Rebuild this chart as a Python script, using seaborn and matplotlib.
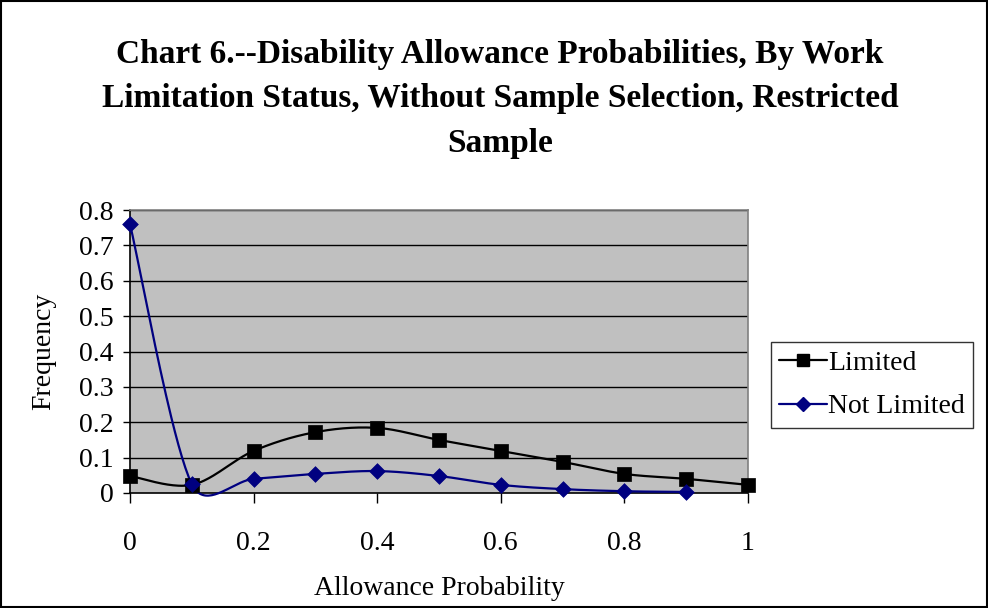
import numpy as np
import pandas as pd
import matplotlib
matplotlib.use("Agg")
import matplotlib.pyplot as plt
import seaborn as sns
from matplotlib.lines import Line2D

# ---- data ----
x_values = [0.0, 0.1, 0.2, 0.3, 0.4, 0.5, 0.6, 0.7, 0.8, 0.9, 1.0]
limited = [0.048, 0.023, 0.119, 0.172, 0.184, 0.150, 0.119, 0.088, 0.054, 0.040, 0.023]
not_limited_x = [0.0, 0.1, 0.2, 0.3, 0.4, 0.5, 0.6, 0.7, 0.8, 0.9]
not_limited = [0.760, 0.025, 0.040, 0.054, 0.062, 0.048, 0.023, 0.011, 0.005, 0.003]
series_names = ["Limited", "Not Limited"]
x_ticks = [0, 0.2, 0.4, 0.6, 0.8, 1.0]
x_tick_labels = ["0", "0.2", "0.4", "0.6", "0.8", "1"]
y_ticks = [0, 0.1, 0.2, 0.3, 0.4, 0.5, 0.6, 0.7, 0.8]
y_tick_labels = ["0", "0.1", "0.2", "0.3", "0.4", "0.5", "0.6", "0.7", "0.8"]
title = "Chart 6.--Disability Allowance Probabilities, By Work\nLimitation Status, Without Sample Selection, Restricted\nSample"
x_label = "Allowance Probability"
y_label = "Frequency"


def excel_smooth(ax, xs, ys, n=40):
    """Excel-style smoothed line (cubic Bezier, computed in screen space)."""
    P = ax.transData.transform(np.column_stack([xs, ys]).astype(float))
    out = []
    m = len(P)
    for i in range(m - 1):
        p0 = P[i - 1] if i > 0 else P[i]
        p1 = P[i]
        p2 = P[i + 1]
        p3 = P[i + 2] if i + 2 < m else P[i + 1]
        d12 = np.linalg.norm(p2 - p1)
        d02 = np.linalg.norm(p2 - p0)
        d13 = np.linalg.norm(p3 - p1)
        f1 = 1 / 6.0
        f2 = 1 / 6.0
        if d02 > 0 and d02 / 6.0 > d12 / 2.0:
            f1 = d12 / (2.0 * d02)
        if d13 > 0 and d13 / 6.0 > d12 / 2.0:
            f2 = d12 / (2.0 * d13)
        c1 = p1 + (p2 - p0) * f1
        c2 = p2 - (p3 - p1) * f2
        t = np.linspace(0, 1, n, endpoint=(i == m - 2))[:, None]
        seg = ((1 - t) ** 3) * p1 + 3 * ((1 - t) ** 2) * t * c1 + 3 * (1 - t) * t ** 2 * c2 + t ** 3 * p2
        out.append(seg)
    out = ax.transData.inverted().transform(np.vstack(out))
    return out[:, 0], out[:, 1]


sns.set_theme(style="white")
plt.rcParams["font.family"] = ["Liberation Serif", "DejaVu Serif"]
plt.rcParams["text.color"] = "black"
plt.rcParams["axes.labelcolor"] = "black"

fig = plt.figure(figsize=(9.88, 6.08), dpi=100)
ax = fig.add_axes([130 / 988, 1 - 493 / 608, (748 - 130) / 988, (493 - 210) / 608])
ax.set_facecolor("#C0C0C0")
ax.set_xlim(0, 1)
ax.set_ylim(0, 0.8)

colors = {"Limited": "#000000", "Not Limited": "#000080"}
markers = {"Limited": "s", "Not Limited": "D"}
sizes = {"Limited": 100, "Not Limited": 64}

for name, xs, ys in [("Limited", x_values, limited), ("Not Limited", not_limited_x, not_limited)]:
    sx, sy = excel_smooth(ax, xs, ys)
    sns.lineplot(x=sx, y=sy, ax=ax, color=colors[name], lw=1.6, sort=False,
                 estimator=None, zorder=3)
    sns.scatterplot(x=xs, y=ys, ax=ax, marker=markers[name], s=sizes[name],
                    color=colors[name], edgecolor=colors[name], linewidth=0.5, zorder=4,
                    clip_on=False)
for ln in ax.lines:
    ln.set_clip_on(False)

ax.set_xlim(0, 1)
ax.set_ylim(0, 0.8)
ax.set_yticks(y_ticks)
ax.set_yticklabels(y_tick_labels)
ax.set_xticks(x_ticks)
ax.set_xticklabels(x_tick_labels)
ax.grid(False)
for yv in y_ticks[1:]:
    ax.axhline(yv, color="black", lw=1.0, zorder=1)

ax.tick_params(axis="both", labelsize=20, colors="black", direction="out")
ax.tick_params(axis="y", length=5, width=1, pad=7, left=True)
ax.tick_params(axis="x", length=7, width=1, pad=20, bottom=True)

for side in ["top", "right"]:
    ax.spines[side].set_color("#808080")
    ax.spines[side].set_linewidth(1.2)
for side in ["left", "bottom"]:
    ax.spines[side].set_color("black")
    ax.spines[side].set_linewidth(1.2)

ax.set_xlabel(x_label, fontsize=20, labelpad=15, color="black")
ax.set_ylabel(y_label, fontsize=20, labelpad=16, color="black")

fig.text(0.506, 1 - 99 / 608, title, ha="center", va="center", fontsize=24,
         fontweight="bold", linespacing=1.58, color="black")

handles = [Line2D([0], [0], color=colors[n], marker=markers[n], lw=1.6,
                  markersize=(9 if n == "Limited" else 7)) for n in series_names]
leg = fig.legend(handles, series_names, loc="center left",
                 bbox_to_anchor=(771 / 988, 1 - 385 / 608), fontsize=20,
                 frameon=True, fancybox=False, handlelength=1.7, handletextpad=0.05,
                 borderpad=0.3, labelspacing=0.65, borderaxespad=0)
leg.get_frame().set_edgecolor("black")
leg.get_frame().set_linewidth(1.0)
for t in leg.get_texts():
    t.set_color("black")

fig.patches.append(plt.Rectangle((0.001, 0.001), 0.998, 0.998, transform=fig.transFigure,
                                 fill=False, edgecolor="black", lw=1.5))

fig.savefig("out.png", dpi=100, facecolor="white")
